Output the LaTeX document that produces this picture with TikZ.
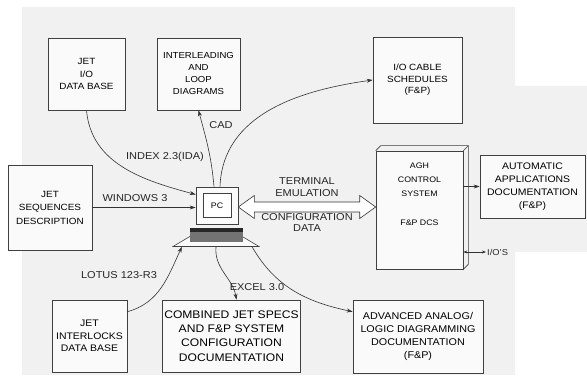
\documentclass[tikz,border=0pt]{standalone}
\usepackage{fontspec}
\setmainfont{Liberation Sans}[FakeStretch=1.1]
\usetikzlibrary{shapes,shapes.geometric,arrows,arrows.meta,positioning,calc}

\begin{document}
\begin{tikzpicture}[
    x=1pt, y=1pt,
    >={Stealth[length=6pt,width=4pt]},
    docbox/.style={rectangle, draw=black!75, line width=0.6pt, fill=gray!4, align=center, inner sep=2pt, font=\fontsize{9}{12.5}\selectfont},
    bigbox/.style={docbox, font=\fontsize{10.5}{14}\selectfont},
    message/.style={->, line width=0.6pt, draw=black!80},
    tag/.style={font=\fontsize{10}{11.5}\selectfont, align=center, inner sep=1pt, text=black!85}
]
\useasboundingbox (0,0) rectangle (587,-379);

% Background sheet
\fill[gray!11] (22,-7) -- (515,-7) -- (515,-86) -- (587,-86) -- (587,-252) -- (515,-252) -- (515,-375) -- (22,-375) -- cycle;

% Data sources and documents
\node[docbox, minimum width=77, minimum height=72] (jetio) at (86.5,-74) {JET\\I/O\\DATA BASE};
\node[docbox, minimum width=83, minimum height=72, font=\fontsize{8.7}{12}\selectfont] (loops) at (198.5,-74) {INTERLEADING\\AND\\LOOP\\DIAGRAMS};
\node[docbox, minimum width=89, minimum height=86, font=\fontsize{9}{11.5}\selectfont] (cables) at (417.5,-80) {I/O CABLE\\SCHEDULES\\(F\&P)};
\node[docbox, minimum width=84, minimum height=85, font=\fontsize{9}{13.5}\selectfont] (jetseq) at (50,-207.5) {JET\\SEQUENCES\\DESCRIPTION};
\node[docbox, minimum width=105, minimum height=63, font=\fontsize{9.5}{13}\selectfont] (autodoc) at (532.5,-186.5) {AUTOMATIC\\APPLICATIONS\\DOCUMENTATION\\(F\&P)};
\node[docbox, minimum width=75, minimum height=72, font=\fontsize{9.5}{12.5}\selectfont] (jetlock) at (89.5,-336) {JET\\INTERLOCKS\\DATA BASE};
\node[bigbox, minimum width=137, minimum height=72, font=\fontsize{11}{14.3}\selectfont] (combined) at (231.5,-336) {COMBINED JET SPECS\\AND F\&P SYSTEM\\CONFIGURATION\\DOCUMENTATION};
\node[bigbox, minimum width=130, minimum height=73, font=\fontsize{9.8}{13.3}\selectfont] (advanced) at (418,-336.5) {ADVANCED ANALOG/\\LOGIC DIAGRAMMING\\DOCUMENTATION\\(F\&P)};

% DCS cabinet
\node[docbox, minimum width=87, minimum height=118] (agh) at (419.5,-210) {};
\draw[black!75, line width=0.6pt] (agh.north west) -- ++(5,5) -- ($(agh.north east)+(5,5)$) -- ($(agh.south east)+(5,5)$) -- (agh.south east);
\draw[black!75, line width=0.6pt] (agh.north east) -- ++(5,5);
\node[font=\fontsize{8}{14}\selectfont, align=center, anchor=north] (aghtext) at ($(agh.north)+(0,-9)$) {AGH\\CONTROL\\SYSTEM\\[15pt]F\&P DCS};

% PC
\node[trapezium, trapezium stretches=true, draw=black!75, line width=0.6pt, fill=gray!4, trapezium left angle=40, trapezium right angle=40, minimum width=86, minimum height=18, inner sep=1pt] (pcbase) at (216,-237.5) {};
\fill[black!55] ($(pcbase.center)+(-26,-5)$) rectangle ($(pcbase.center)+(27,5)$);
\fill[black!85] ($(pcbase.center)+(-26,5)$) rectangle ($(pcbase.center)+(27,9)$);
\node[draw=black!75, line width=0.6pt, fill=gray!4, minimum width=42, minimum height=37] (pc) at (217,-205.5) {};
\node[draw=black!75, line width=0.5pt, fill=white, minimum width=28, minimum height=24, font=\fontsize{8}{9}\selectfont] (screen) at (pc) {PC};

% Links into and out of the PC
\draw[message] (jetio.south) to[out=-85, in=165] ($(pc.west)+(0,11)$);
\draw[message] ($(pc.north)+(-3,0)$) to[out=95, in=-75] (loops.south);
\draw[message] ($(pc.north)+(3,0)$) to[out=88, in=188] (cables.west);
\draw[message] (jetseq.east) -- (jetseq.east -| pc.west);
\draw[message] ($(jetlock.north east)+(0,-12)$) to[out=15, in=-115] ($(pcbase.bottom left corner)+(10,0)$);
\draw[message] (pcbase.south) to[out=-95, in=100] ($(combined.north)+(5,0)$);
\draw[message] ($(pcbase.bottom right corner)+(-8,0)$) to[out=-60, in=168] ($(advanced.north west)+(0,-12)$);
\draw[message] (agh.east |- autodoc.west) -- (autodoc.west);

% Link labels
\node[tag] (idxlbl) at (165,-157) {INDEX 2.3(IDA)};
\node[tag] (cadlbl) at (221,-125) {CAD};
\node[tag] (winlbl) at (135,-198) {WINDOWS 3};
\node[tag] (lotlbl) at (119,-275) {LOTUS 123-R3};
\node[tag] (xlslbl) at (257,-287) {EXCEL 3.0};

% Terminal link to the DCS
\coordinate (tl) at (pc.east |- 0,-207);
\coordinate (tr) at (agh.west |- 0,-207);
\draw[black!80, line width=0.6pt, fill=white] (tl) -- ++(16,11.5) -- ++(0,-6.5) -- ($(tr)+(-16,5)$) -- ++(0,6.5) -- (tr)
    -- ++(-16,-11.5) -- ++(0,6.5) -- ($(tl)+(16,-5)$) -- ++(0,-6.5) -- cycle;
\node[tag, font=\fontsize{10}{11.5}\selectfont] (termlbl) at (307,-187) {TERMINAL\\EMULATION};
\node[tag, font=\fontsize{10}{11}\selectfont] (cfglbl) at (307,-222.5) {CONFIGURATION\\DATA};

% Field I/O
\node[tag, font=\fontsize{8.5}{10}\selectfont, anchor=west] (ios) at (486,-252) {I/O'S};
\draw[<->, line width=0.6pt, draw=black!80, >={Stealth[length=4pt,width=3pt]}] (agh.east |- ios.west) -- (ios.west);

\end{tikzpicture}
\end{document}
